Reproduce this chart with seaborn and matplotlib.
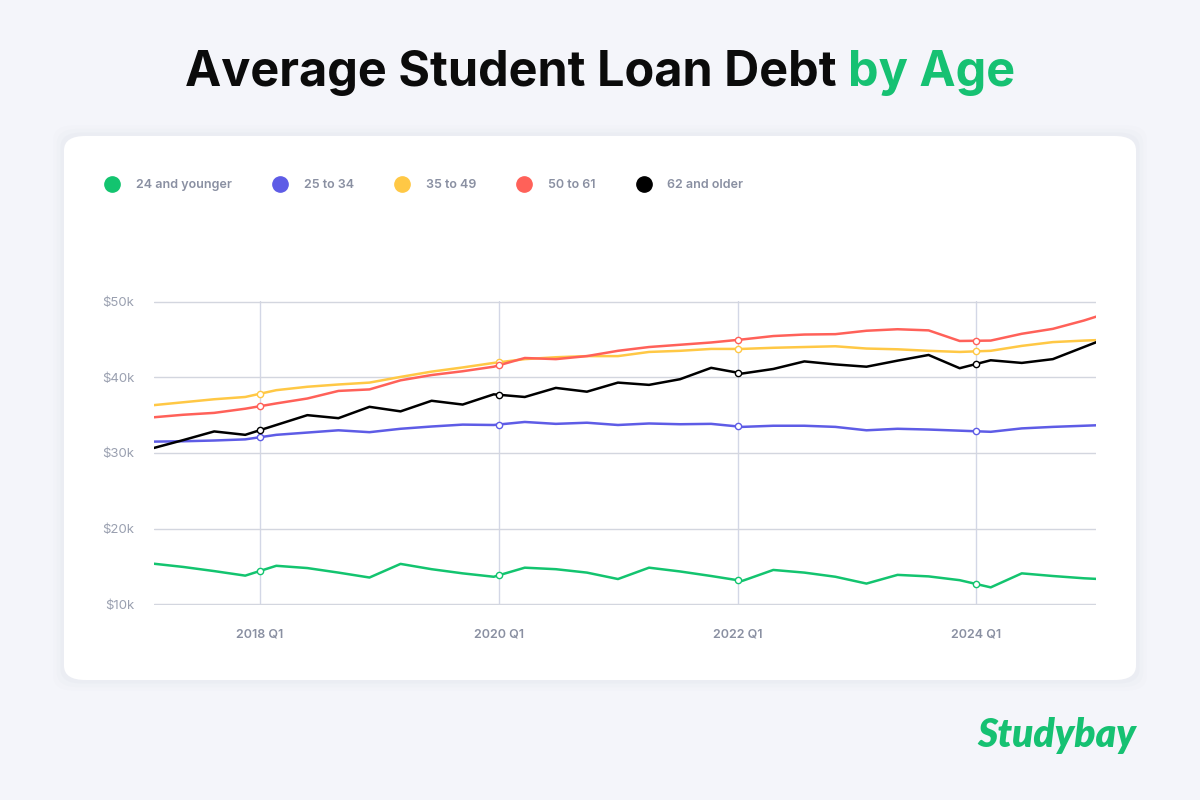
import matplotlib
matplotlib.use("Agg")
import matplotlib.pyplot as plt
import matplotlib.dates as mdates
from matplotlib.patches import FancyBboxPatch
from matplotlib.lines import Line2D
import seaborn as sns
import pandas as pd
import numpy as np

# data (thousands of dollars), one reading roughly every 95 days
dates = pd.date_range("2017-02-05", periods=32, freq="95D")
groups = ["24 and younger", "25 to 34", "35 to 49", "50 to 61", "62 and older"]
colors = ["#13c46f", "#5e5ce6", "#ffc845", "#ff6159", "#000000"]

age_24 = [15.4, 14.95, 14.4, 13.8, 15.1, 14.8, 14.2, 13.55, 15.35, 14.65, 14.1,
          13.65, 14.85, 14.65, 14.2, 13.35, 14.85, 14.35, 13.75, 13.1, 14.55,
          14.2, 13.65, 12.75, 13.9, 13.7, 13.2, 12.25, 14.1, 13.75, 13.45, 13.25]
age_25_34 = [31.5, 31.55, 31.65, 31.8, 32.4, 32.7, 33.0, 32.75, 33.2, 33.5, 33.75,
             33.7, 34.1, 33.85, 34.0, 33.7, 33.9, 33.8, 33.85, 33.45, 33.6,
             33.6, 33.45, 33.0, 33.2, 33.1, 32.95, 32.8, 33.25, 33.45, 33.6, 33.75]
age_35_49 = [36.3, 36.7, 37.1, 37.4, 38.3, 38.75, 39.05, 39.3, 40.05, 40.75, 41.3,
             41.9, 42.4, 42.65, 42.8, 42.8, 43.35, 43.5, 43.75, 43.75, 43.9,
             44.0, 44.1, 43.8, 43.7, 43.5, 43.35, 43.5, 44.15, 44.65, 44.85, 45.0]
age_50_61 = [34.7, 35.05, 35.3, 35.85, 36.55, 37.2, 38.2, 38.4, 39.6, 40.3, 40.8,
             41.4, 42.55, 42.4, 42.8, 43.5, 44.0, 44.3, 44.6, 45.0, 45.45,
             45.65, 45.7, 46.15, 46.35, 46.2, 44.8, 44.85, 45.75, 46.4, 47.5, 48.8]
age_62 = [30.6, 31.7, 32.85, 32.4, 33.7, 35.0, 34.6, 36.1, 35.5, 36.9, 36.4,
          37.75, 37.4, 38.6, 38.1, 39.3, 39.0, 39.75, 41.25, 40.5, 41.1,
          42.1, 41.7, 41.4, 42.2, 42.95, 41.2, 42.25, 41.9, 42.4, 44.0, 45.6]

tick_dates = pd.to_datetime(["2018-01-01", "2020-01-01", "2022-01-01", "2024-01-01"])
tick_labels = ["2018 Q1", "2020 Q1", "2022 Q1", "2024 Q1"]
y_ticks = [10, 20, 30, 40, 50]
y_labels = ["$10k", "$20k", "$30k", "$40k", "$50k"]

series = [age_24, age_25_34, age_35_49, age_50_61, age_62]
df = pd.concat([pd.DataFrame({"date": dates, "debt": vals, "group": g})
                for g, vals in zip(groups, series)], ignore_index=True)

sns.set_theme(style="white")
plt.rcParams["font.family"] = ["Inter", "DejaVu Sans"]

BG = "#f4f5fa"
fig = plt.figure(figsize=(12, 8), dpi=100, facecolor=BG)

# card with soft shadow
for i, a in enumerate([0.015, 0.02, 0.03]):
    grow = (3 - i) * 0.003
    fig.patches.append(FancyBboxPatch((64 / 1200 - grow, 120 / 800 - grow * 1.5),
                                      1072 / 1200 + 2 * grow, 544 / 800 + 2 * grow * 1.5,
                                      boxstyle="round,pad=0,rounding_size=0.018",
                                      transform=fig.transFigure, facecolor="#8890b0",
                                      edgecolor="none", alpha=a, zorder=0))
fig.patches.append(FancyBboxPatch((64 / 1200, 120 / 800), 1072 / 1200, 544 / 800,
                                  boxstyle="round,pad=0,rounding_size=0.018",
                                  transform=fig.transFigure, facecolor="white",
                                  edgecolor="none", zorder=1))

ax = fig.add_axes([154 / 1200, 195 / 800, 942 / 1200, 304 / 800])
ax.set_facecolor("none")
ax.set_zorder(2)

sns.lineplot(data=df, x="date", y="debt", hue="group", palette=colors,
             linewidth=1.8, ax=ax, legend=False, zorder=3)

# hollow markers where the lines cross the tick dates
xnum = mdates.date2num(dates)
tnum = mdates.date2num(tick_dates)
for vals, c in zip(series, colors):
    ax.plot(tick_dates, np.interp(tnum, xnum, vals), linestyle="", marker="o",
            markersize=4.5, markerfacecolor="white", markeredgecolor=c,
            markeredgewidth=1.0, zorder=4)

ax.set_xlim(pd.Timestamp("2017-02-11"), pd.Timestamp("2025-01-01"))
ax.set_ylim(9.92, 50.08)
ax.set_yticks(y_ticks)
ax.set_yticklabels(y_labels)
ax.set_xticks(tick_dates)
ax.set_xticklabels(tick_labels)
ax.grid(axis="y", color="#d3d6df", linewidth=1)
ax.grid(axis="x", color="#d3d7e6", linewidth=1)
ax.set_axisbelow(True)
for s in ax.spines.values():
    s.set_visible(False)
ax.tick_params(axis="y", length=0, pad=14, labelsize=9.5, labelcolor="#9aa0b0")
ax.tick_params(axis="x", length=0, pad=17, labelsize=9, labelcolor="#8a90a2")
for lbl in ax.get_xticklabels():
    lbl.set_fontweight("semibold")
ax.set_xlabel("")
ax.set_ylabel("")

# legend
handles = [Line2D([], [], linestyle="", marker="o", markersize=11,
                  markerfacecolor=c, markeredgecolor=c) for c in colors]
leg = fig.legend(handles, groups, loc="center left", bbox_to_anchor=(104 / 1200, 1 - 185 / 800),
                 ncol=5, frameon=False, handlelength=1.3, handletextpad=1.25,
                 columnspacing=3.2, borderpad=0, borderaxespad=0,
                 prop={"size": 9, "weight": "semibold"})
for t in leg.get_texts():
    t.set_color("#8a90a2")

# title in two colours
r = fig.canvas.get_renderer()
t1 = fig.text(0, 1 - 73 / 800, "Average Student Loan Debt ", fontsize=35,
              fontweight="bold", color="#0b0b0b", va="center", ha="left")
t2 = fig.text(0, 1 - 73 / 800, "by Age", fontsize=35, fontweight="bold",
              color="#16c172", va="center", ha="left")
w1 = t1.get_window_extent(r).width
w2 = t2.get_window_extent(r).width
x0 = (1200 - w1 - w2) / 2
t1.set_x(x0 / 1200)
t2.set_x((x0 + w1) / 1200)

# brand mark
fig.text(1136 / 1200, 1 - 735 / 800, "Studybay", fontsize=28, fontweight="heavy",
         fontstyle="italic", color="#16c172", ha="right", va="center",
         family=["Lato", "DejaVu Sans"])

fig.savefig("out.png", dpi=100, facecolor=BG)
